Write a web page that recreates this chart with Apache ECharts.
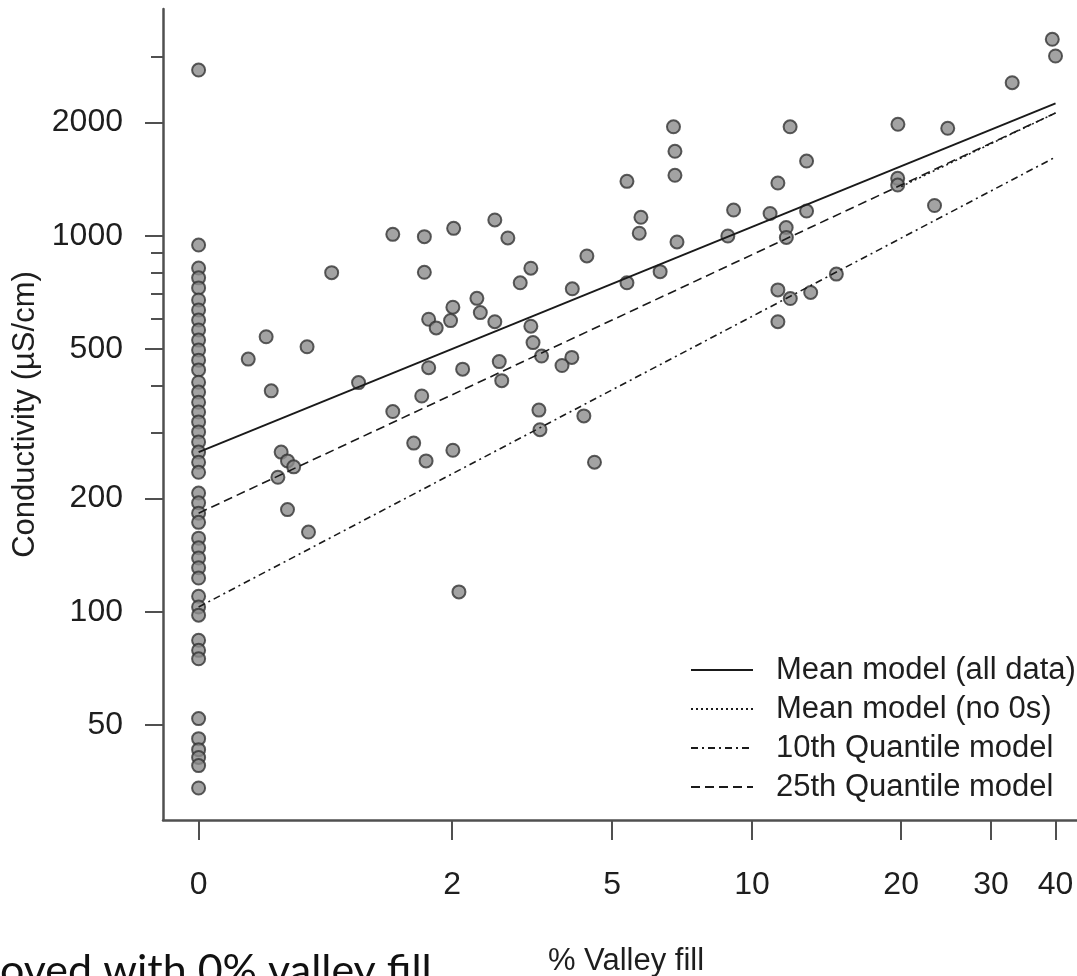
<!DOCTYPE html>
<html><head><meta charset="utf-8">
<script src="https://cdn.jsdelivr.net/npm/echarts@6/dist/echarts.min.js"></script>
<style>html,body{margin:0;padding:0;background:#fff}#c{width:1077px;height:976px}</style>
</head><body><div id="c"></div>
<script>
// ---- tick labels ----
const xTicks = [0, 2, 5, 10, 20, 30, 40];
const yTicksMajor = [50, 100, 200, 500, 1000, 2000];
const yTicksMinor = [300, 400, 600, 700, 800, 900, 3000];
const xRange = [-0.143, 44.0];
const yRange = [27.95, 4011];

// ---- sites with 0% valley fill (conductivity, uS/cm) ----
const zeroFillConductivity = [2760, 945, 821, 773, 727, 675, 635, 597, 562, 528, 497, 467, 440,
  408, 384, 361, 340, 320, 301, 283, 266, 250, 235, 207, 195, 183, 173, 157, 148, 139, 131, 123,
  110, 103, 98, 84, 79, 75, 52, 46, 43, 41, 39, 34];

// ---- sites with valley fill > 0 ----
const valleyFillPct = [0.24, 0.34, 0.60, 0.37, 0.78, 1.00, 0.43, 0.47, 0.51, 0.41, 0.47, 0.61,
  1.32, 1.66, 2.02, 2.61, 2.82, 1.66, 3.22, 3.03, 4.05, 5.40, 6.39, 2.34, 2.01, 2.39, 2.61, 1.71,
  1.98, 1.80, 3.22, 3.26, 3.42, 1.71, 2.14, 2.68, 2.72, 4.04, 3.83, 1.63, 1.32, 3.37, 4.31, 3.39,
  1.54, 1.68, 2.01, 4.56, 2.09, 4.38, 6.83, 6.88, 6.88, 5.40, 5.80, 5.75, 6.95, 11.98, 19.71, 24.7,
  12.94, 11.31, 9.16, 10.90, 12.94, 19.69, 19.69, 23.27, 8.91, 11.76, 11.77, 14.86, 11.31, 11.99,
  13.19, 11.31, 32.98, 39.43, 40.0];
const valleyFillConductivity = [470, 539, 507, 387, 798, 407, 266, 252, 243, 228, 187, 163,
  1009, 995, 1047, 1102, 987, 800, 820, 750, 723, 750, 803, 682, 646, 625, 591, 600,
  595, 569, 575, 520, 479, 446, 442, 463, 412, 475, 452, 375, 341, 344, 332, 305,
  281, 252, 269, 250, 113, 884, 1950, 1678, 1449, 1396, 1120, 1016, 963, 1950, 1980, 1932,
  1581, 1382, 1171, 1147, 1164, 1422, 1365, 1204, 999, 1052, 990, 791, 718, 681,
  707, 591, 2554, 3332, 3008];

// ---- model lines (endpoints) ----
const meanAllX = [0, 40], meanAllY = [266, 2250];
const meanNo0X = [20, 40], meanNo0Y = [1352, 2122];
const q10X = [0, 40], q10Y = [103, 1620];
const q25X = [0, 40], q25Y = [183, 2122];

const fx = v => Math.log10(v + 1);
const fy = v => Math.log10(v);
const FONT = "'Liberation Sans', Arial, sans-serif";
const INK = '#1e1e1e';
const AX = '#505050';

const pts = zeroFillConductivity.map(c => [fx(0), fy(c)])
  .concat(valleyFillPct.map((p, i) => [fx(p), fy(valleyFillConductivity[i])]));
const seg = (xs, ys) => xs.map((x, i) => [fx(x), fy(ys[i])]);

const lineSeries = (name, xs, ys, type, w) => ({
  name, type: 'line', data: seg(xs, ys), symbol: 'none', z: 5,
  lineStyle: { color: '#1a1a1a', width: w, type }, itemStyle: { color: '#1a1a1a' },
  emphasis: { disabled: true }, animation: false
});

const chart = echarts.init(document.getElementById('c'), null, { renderer: 'canvas' });
chart.setOption({
  animation: false,
  backgroundColor: '#ffffff',
  grid: { left: 163, right: 0, top: 9, bottom: 156, containLabel: false, outerBoundsMode: 'none' },
  xAxis: {
    type: 'value', min: fx(xRange[0]), max: fx(xRange[1]),
    name: '% Valley fill', nameLocation: 'middle', nameGap: 126,
    nameTextStyle: { fontSize: 31, color: INK, fontFamily: FONT, padding: [0, 0, 0, 12] },
    axisLine: { show: true, onZero: false, lineStyle: { color: AX, width: 2.5 } },
    axisTick: { show: true, length: 20, lineStyle: { color: AX, width: 2 }, customValues: xTicks.map(fx) },
    axisLabel: { show: true, margin: 49, fontSize: 32, color: INK, fontFamily: FONT,
      customValues: xTicks.map(fx), formatter: v => String(Math.round(Math.pow(10, v) - 1)) },
    splitLine: { show: false }
  },
  yAxis: [{
    type: 'value', min: fy(yRange[0]), max: fy(yRange[1]),
    name: 'Conductivity (µS/cm)', nameLocation: 'middle', nameGap: 96,
    nameTextStyle: { fontSize: 31, color: INK, fontFamily: FONT },
    axisLine: { show: true, onZero: false, lineStyle: { color: AX, width: 2.5 } },
    axisTick: { show: true, length: 18, lineStyle: { color: AX, width: 2 }, customValues: yTicksMajor.map(fy) },
    axisLabel: { show: true, margin: 40, fontSize: 32, color: INK, fontFamily: FONT,
      customValues: yTicksMajor.map(fy), formatter: v => String(Math.round(Math.pow(10, v))) },
    splitLine: { show: false }
  }, {
    type: 'value', min: fy(yRange[0]), max: fy(yRange[1]), position: 'left',
    axisLine: { show: false, onZero: false },
    axisTick: { show: true, length: 12, lineStyle: { color: AX, width: 2 }, customValues: yTicksMinor.map(fy) },
    axisLabel: { show: false },
    splitLine: { show: false }
  }],
  legend: {
    orient: 'vertical', left: 685, top: 649, itemWidth: 62, itemHeight: 14, itemGap: 7,
    itemStyle: { opacity: 0 },
    data: ['Mean model (all data)', 'Mean model (no 0s)', '10th Quantile model', '25th Quantile model'],
    textStyle: { fontSize: 31, lineHeight: 32, color: INK, fontFamily: FONT, padding: [0, 0, 0, 18] },
    selectedMode: false
  },
  series: [
    { name: 'sites', type: 'scatter', data: pts, symbol: 'circle', symbolSize: 13,
      itemStyle: { color: '#8c8c8c', borderColor: '#333', borderWidth: 2 }, z: 3,
      emphasis: { disabled: true } },
    lineSeries('Mean model (all data)', meanAllX, meanAllY, 'solid', 2),
    lineSeries('Mean model (no 0s)', meanNo0X, meanNo0Y, [2, 3], 1.5),
    lineSeries('10th Quantile model', q10X, q10Y, [7, 4, 2, 4], 1.6),
    lineSeries('25th Quantile model', q25X, q25Y, [9, 5], 1.6)
  ],
  graphic: [{
    type: 'text', left: 0, top: 950,
    style: { text: 'oved with 0% valley fill', fontSize: 43, fill: '#111', fontFamily: "Lato, 'Open Sans', sans-serif" }
  }]
});
</script></body></html>
